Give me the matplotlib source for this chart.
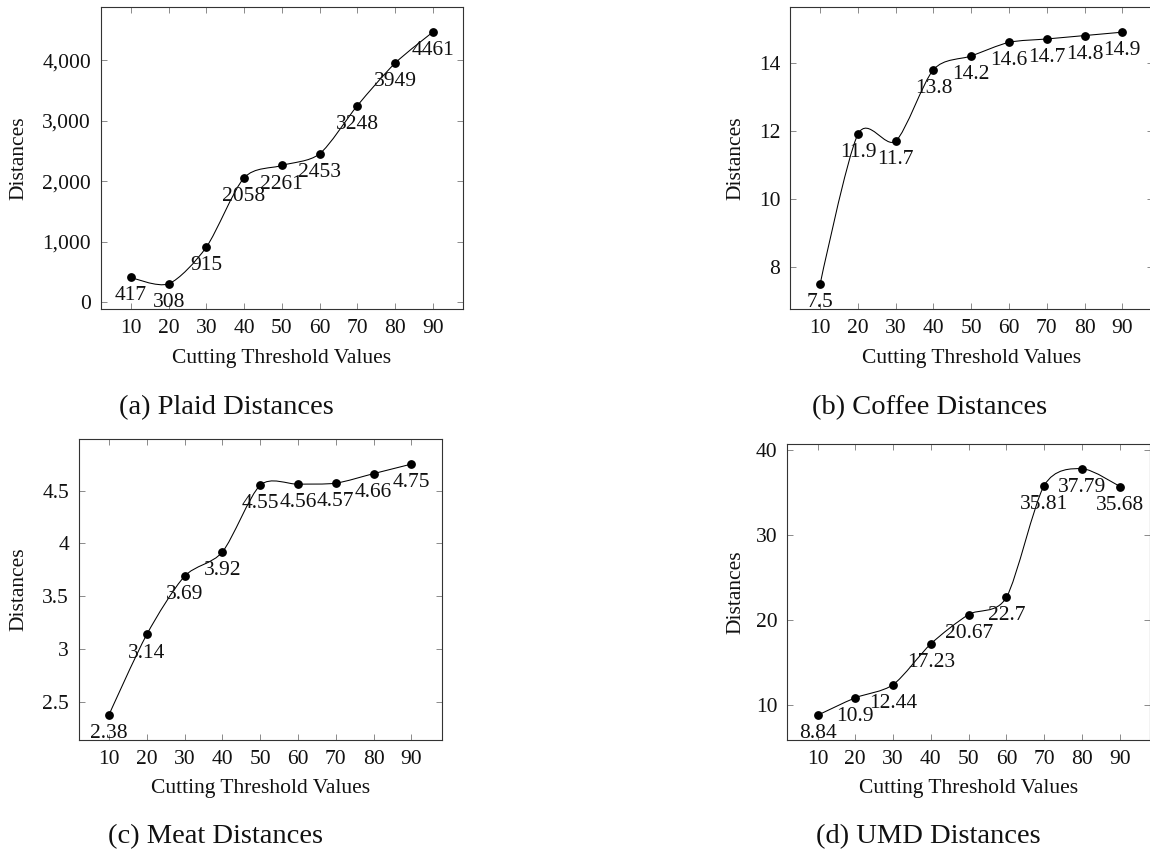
import matplotlib
matplotlib.use("Agg")
import matplotlib.pyplot as plt
from matplotlib.path import Path
from matplotlib.patches import PathPatch
from matplotlib.ticker import FuncFormatter

plt.rcParams['font.family'] = ['Liberation Serif', 'DejaVu Serif']

thresholds = [10, 20, 30, 40, 50, 60, 70, 80, 90]
plaid = [417, 308, 915, 2058, 2261, 2453, 3248, 3949, 4461]
coffee = [7.5, 11.9, 11.7, 13.8, 14.2, 14.6, 14.7, 14.8, 14.9]
meat = [2.38, 3.14, 3.69, 3.92, 4.55, 4.56, 4.57, 4.66, 4.75]
umd = [8.84, 10.9, 12.44, 17.23, 20.67, 22.7, 35.81, 37.79, 35.68]

plaid_ticks = [0, 1000, 2000, 3000, 4000]
coffee_ticks = [8, 10, 12, 14]
meat_ticks = [2.5, 3, 3.5, 4, 4.5]
umd_ticks = [10, 20, 30, 40]

captions = ["(a) Plaid Distances", "(b) Coffee Distances", "(c) Meat Distances", "(d) UMD Distances"]

W, H = 1150, 855
FS = 15.5
TENSION = 0.55 * 0.25


def smooth_path(xs, ys):
	# tikz-like smooth curve: bezier segments, handles along neighbour chords
	pts = list(zip(xs, ys))
	n = len(pts)
	verts = [pts[0]]
	codes = [Path.MOVETO]
	for i in range(n - 1):
		p0 = pts[i]
		p1 = pts[i + 1]
		if i == 0:
			c1 = p0
		else:
			a = pts[i - 1]
			c1 = (p0[0] + TENSION * (p1[0] - a[0]), p0[1] + TENSION * (p1[1] - a[1]))
		if i + 2 >= n:
			c2 = p1
		else:
			b = pts[i + 2]
			c2 = (p1[0] - TENSION * (b[0] - p0[0]), p1[1] - TENSION * (b[1] - p0[1]))
		verts += [c1, c2, p1]
		codes += [Path.CURVE4] * 3
	return Path(verts, codes)


def enlarge(vals):
	lo, hi = min(vals), max(vals)
	d = (hi - lo) * 0.1
	return lo - d, hi + d


def make_panel(fig, box, xs, ys, yticks, yfmt, ylab_x, xlab_y, caption, cap_xy):
	l, r, t, b = box
	ax = fig.add_axes([l / W, 1 - b / H, (r - l) / W, (b - t) / H])
	ax.set_xlim(*enlarge(xs))
	ax.set_ylim(*enlarge(ys))

	ax.add_patch(PathPatch(smooth_path(xs, ys), facecolor='none', edgecolor='black', lw=0.75))
	ax.plot(xs, ys, 'o', color='black', markersize=5.3, zorder=3)
	for x, y in zip(xs, ys):
		ax.annotate(f"{y:g}", (x, y), xytext=(0, -6.5), textcoords='offset points',
			ha='center', va='top', fontsize=FS, color='#111111', zorder=4)

	ax.set_xticks(xs)
	ax.set_yticks(yticks)
	ax.yaxis.set_major_formatter(FuncFormatter(yfmt))
	ax.tick_params(direction='in', top=True, right=True, length=4, width=0.6,
		color='#777777', labelsize=FS, labelcolor='#111111')
	ax.tick_params(axis='x', pad=7)
	ax.tick_params(axis='y', pad=7)
	for s in ax.spines.values():
		s.set_linewidth(0.8)
		s.set_color('#333333')

	ax.set_xlabel("Cutting Threshold Values", fontsize=FS, color='#111111')
	ax.set_ylabel("Distances", fontsize=FS, color='#111111')
	ax.xaxis.set_label_coords(0.5, (b - xlab_y) / (b - t))
	ax.xaxis.label.set_va('center')
	ax.yaxis.set_label_coords((ylab_x - l) / (r - l), 0.5)
	ax.yaxis.label.set_va('center')
	ax.yaxis.label.set_ha('center')

	fig.text(cap_xy[0] / W, 1 - cap_xy[1] / H, caption, ha='center', va='center',
		fontsize=20.5, color='#111111')
	return ax


fig = plt.figure(figsize=(W / 100, H / 100), dpi=100)

comma = lambda v, p: f"{v:,.0f}"
plain = lambda v, p: f"{v:g}"

make_panel(fig, (100.7, 463, 7, 309), thresholds, plaid, plaid_ticks, comma, 19, 359, captions[0], (226.7, 408))
make_panel(fig, (790, 1152.5, 7, 309), thresholds, coffee, coffee_ticks, plain, 736, 359, captions[1], (930, 408))
make_panel(fig, (78.7, 441.7, 439, 740), thresholds, meat, meat_ticks, plain, 19, 788.5, captions[2], (216, 836.7))
make_panel(fig, (787.3, 1150, 444, 740), thresholds, umd, umd_ticks, plain, 736, 788.5, captions[3], (928, 837))

fig.savefig("out.png", dpi=100)
